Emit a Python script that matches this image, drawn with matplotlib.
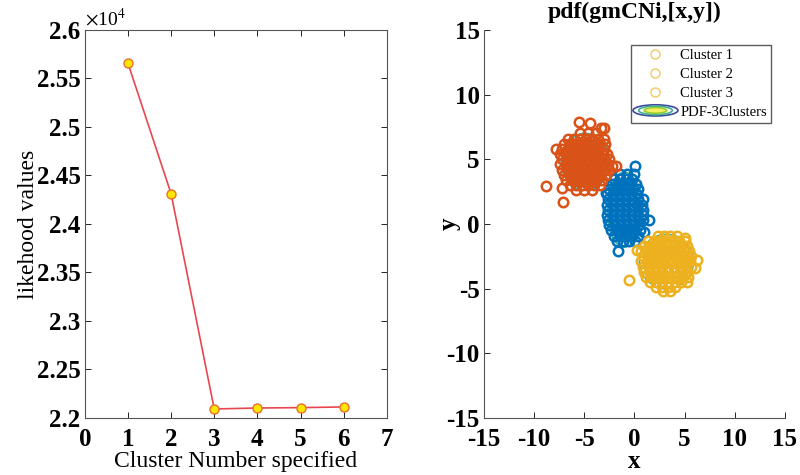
import matplotlib
matplotlib.use("Agg")
import matplotlib.pyplot as plt
from matplotlib.lines import Line2D
from matplotlib.patches import Ellipse
from matplotlib.legend_handler import HandlerPatch
from matplotlib.ticker import FuncFormatter

plt.rcParams['font.family'] = ['Liberation Serif', 'DejaVu Serif']
plt.rcParams['mathtext.fontset'] = 'stix'
plt.rcParams['axes.unicode_minus'] = False

# left panel: likelihood vs number of clusters
n_clusters = [1, 2, 3, 4, 5, 6]
likelihood = [25657, 24312, 22093, 22103, 22107, 22114]

# right panel: scatter points of the three clusters, read row by row
red_rows = [
    (7.0, [-5.4, -4.6, -3.8]),
    (6.6, [-6.6, -6.0, -5.4, -4.8, -4.2, -3.6, -3.0]),
    (6.2, [-7.0, -6.4, -5.8, -5.2, -4.6, -4.0, -3.4, -2.9]),
    (5.8, [-7.2, -6.6, -6.0, -5.4, -4.8, -4.2, -3.6, -3.0]),
    (5.4, [-7.4, -6.8, -6.2, -5.6, -5.0, -4.4, -3.8, -3.2, -2.7]),
    (5.0, [-7.2, -6.6, -6.0, -5.4, -4.8, -4.2, -3.6, -3.0, -2.5]),
    (4.6, [-7.4, -6.8, -6.2, -5.6, -5.0, -4.4, -3.8, -3.2, -2.6]),
    (4.2, [-7.2, -6.6, -6.0, -5.4, -4.8, -4.2, -3.6, -3.0, -2.5]),
    (3.8, [-7.0, -6.4, -5.8, -5.2, -4.6, -4.0, -3.4, -2.8]),
    (3.4, [-6.8, -6.2, -5.6, -5.0, -4.4, -3.8, -3.2]),
    (3.0, [-6.4, -5.8, -5.2, -4.6, -4.0, -3.4]),
    (2.6, [-5.8, -5.0, -4.2]),
]
red_extra = [(-8.8, 2.9), (-7.1, 1.7), (-5.5, 7.9), (-4.4, 7.8), (-3.3, 7.4),
             (-3.0, 7.4), (-1.8, 4.5), (-2.2, 4.5), (-7.8, 5.8), (-7.2, 2.8)]

blue_rows = [
    (3.9, [-1.4, -0.7, 0.0]),
    (3.5, [-2.0, -1.4, -0.8, -0.2]),
    (3.1, [-2.2, -1.6, -1.0, -0.4, 0.2]),
    (2.7, [-2.5, -1.9, -1.3, -0.7, -0.1, 0.4]),
    (2.3, [-2.7, -2.1, -1.5, -0.9, -0.3, 0.3]),
    (1.9, [-2.6, -2.0, -1.4, -0.8, -0.2, 0.4, 0.9]),
    (1.5, [-2.7, -2.1, -1.5, -0.9, -0.3, 0.3, 0.8]),
    (1.1, [-2.6, -2.0, -1.4, -0.8, -0.2, 0.4, 0.9]),
    (0.7, [-2.7, -2.1, -1.5, -0.9, -0.3, 0.3, 0.9]),
    (0.3, [-2.6, -2.0, -1.4, -0.8, -0.2, 0.4, 0.9]),
    (-0.1, [-2.5, -1.9, -1.3, -0.7, -0.1, 0.5]),
    (-0.5, [-2.3, -1.7, -1.1, -0.5, 0.1, 0.6]),
    (-0.9, [-2.0, -1.4, -0.8, -0.2, 0.4]),
    (-1.3, [-1.7, -1.1, -0.5, 0.1]),
]
blue_extra = [(0.05, 4.5), (1.45, 0.3), (-1.6, -2.1), (-2.8, 2.4), (1.0, -0.6)]

yellow_rows = [
    (-0.9, [2.4, 3.0, 3.6, 4.2]),
    (-1.3, [1.4, 2.0, 2.6, 3.2, 3.8, 4.4, 5.0]),
    (-1.7, [1.0, 1.6, 2.2, 2.8, 3.4, 4.0, 4.6, 5.2]),
    (-2.1, [0.7, 1.3, 1.9, 2.5, 3.1, 3.7, 4.3, 4.9, 5.4]),
    (-2.5, [0.9, 1.5, 2.1, 2.7, 3.3, 3.9, 4.5, 5.1, 5.6]),
    (-2.9, [0.7, 1.3, 1.9, 2.5, 3.1, 3.7, 4.3, 4.9, 5.5]),
    (-3.3, [0.9, 1.5, 2.1, 2.7, 3.3, 3.9, 4.5, 5.1, 5.6]),
    (-3.7, [1.0, 1.6, 2.2, 2.8, 3.4, 4.0, 4.6, 5.2]),
    (-4.1, [1.2, 1.8, 2.4, 3.0, 3.6, 4.2, 4.8, 5.3]),
    (-4.5, [1.6, 2.2, 2.8, 3.4, 4.0, 4.6]),
    (-4.9, [2.2, 2.8, 3.4, 4.0]),
]
yellow_extra = [(-0.5, -4.3), (6.2, -2.8), (6.0, -3.4), (5.2, -4.5), (2.9, -5.2),
                (3.6, -5.2), (5.0, -1.1), (0.3, -2.0)]

# outer pdf contour of each component (center x, center y, width, height)
pdf_ellipses = [(-4.9, 4.8, 4.8, 4.4), (-1.0, 1.1, 3.4, 5.8), (3.2, -2.9, 5.4, 4.2)]

cluster_names = ['Cluster 1', 'Cluster 2', 'Cluster 3']
cluster_colors = ['#0072BD', '#D95319', '#EDB120']


def flatten(rows, extra):
    xs = [x for y, row in rows for x in row] + [p[0] for p in extra]
    ys = [y for y, row in rows for x in row] + [p[1] for p in extra]
    return xs, ys


fig = plt.figure(figsize=(8, 4.75), dpi=100)

# ---- left panel
ax1 = fig.add_axes([0.106, 0.12, 0.3775, 0.817])
ax1.plot(n_clusters, likelihood, color='#e8474f', lw=1.2, marker='o', ms=6.5,
         mfc='#ffe600', mec='#e8702a', mew=1.0)
ax1.set_xlim(0, 7)
ax1.set_ylim(22000, 26000)
ax1.set_xticks(range(0, 8))
ax1.set_yticks([22000 + 500 * i for i in range(9)])
ax1.yaxis.set_major_formatter(FuncFormatter(lambda v, p: f'{v / 1e4:g}'))
ax1.tick_params(direction='in', top=True, right=True, length=4, width=0.6,
                labelsize=18)
ax1.tick_params(axis='y', pad=3)
ax1.tick_params(axis='x', pad=7)
for lab in ax1.get_xticklabels() + ax1.get_yticklabels():
    lab.set_fontweight('bold')
for s in ax1.spines.values():
    s.set_color('#555555')
    s.set_linewidth(0.8)
ax1.text(0.0, 1.0, r'$\times$10$^4$', transform=ax1.transAxes, fontsize=14,
         va='bottom', ha='left')
ax1.set_xlabel('Cluster Number specified', fontsize=17)
ax1.xaxis.set_label_coords(0.5, -0.086)
ax1.set_ylabel('likehood values', fontsize=17)
ax1.yaxis.set_label_coords(-0.15, 0.5)

# ---- right panel
ax2 = fig.add_axes([0.605, 0.12, 0.376, 0.817])
for cx, cy, w, h in pdf_ellipses:
    ax2.add_patch(Ellipse((cx, cy), w, h, fill=False, ec='#3fae8f', lw=1.2, zorder=1))

order = [(blue_rows, blue_extra), (red_rows, red_extra), (yellow_rows, yellow_extra)]
for (rows, extra), name, col in zip(order, cluster_names, cluster_colors):
    xs, ys = flatten(rows, extra)
    ax2.plot(xs, ys, 'o', ms=6.8, mfc='none', mec=col, mew=1.8, label=name, zorder=2)

ax2.set_xlim(-15, 15)
ax2.set_ylim(-15, 15)
ax2.set_xticks(range(-15, 16, 5))
ax2.set_yticks(range(-15, 16, 5))
ax2.tick_params(direction='in', length=4, width=0.6, labelsize=18)
ax2.tick_params(axis='y', pad=3)
ax2.tick_params(axis='x', pad=7)
for lab in ax2.get_xticklabels() + ax2.get_yticklabels():
    lab.set_fontweight('bold')
ax2.spines['top'].set_visible(False)
ax2.spines['right'].set_visible(False)
for s in ['left', 'bottom']:
    ax2.spines[s].set_color('#555555')
    ax2.spines[s].set_linewidth(0.8)
ax2.set_xlabel('x', fontsize=18, fontweight='bold')
ax2.xaxis.set_label_coords(0.5, -0.083)
ax2.set_ylabel('y', fontsize=18, fontweight='bold')
ax2.yaxis.set_label_coords(-0.078, 0.5)
ax2.text(0.5, 1.045, 'pdf(gmCNi,[x,y])', transform=ax2.transAxes, fontsize=17,
         fontweight='bold', ha='center', va='center')


class HandlerRings(HandlerPatch):
    def create_artists(self, legend, orig_handle, xdescent, ydescent, width,
                       height, fontsize, trans):
        cx = width / 2 - xdescent
        cy = height / 2 - ydescent
        arts = []
        for f, ec, fc in [(1.0, '#3b4ba0', 'none'), (0.75, '#3fae8f', 'none'),
                          (0.5, '#9acd32', '#f5f060')]:
            e = Ellipse((cx, cy), width * 1.1 * f, height * 1.1 * f, ec=ec, fc=fc,
                        lw=1.2, transform=trans)
            arts.append(e)
        return arts


legend_handles = [Line2D([], [], ls='none', marker='o', ms=6.5, mfc='none',
                         mec='#EDB120', mew=1.0, alpha=0.7) for _ in cluster_names]
pdf_handle = Ellipse((0, 0), 1, 1)
leg = ax2.legend(legend_handles + [pdf_handle], cluster_names + ['PDF-3Clusters'],
                 handler_map={Ellipse: HandlerRings()}, loc='upper right',
                 bbox_to_anchor=(0.955, 0.962), fontsize=10.5, frameon=True,
                 fancybox=False, edgecolor='#333333', handlelength=2.8,
                 handletextpad=0.3, labelspacing=0.38, borderpad=0.3,
                 borderaxespad=0)
leg.get_frame().set_linewidth(1.0)

fig.savefig('out.png', dpi=100)
